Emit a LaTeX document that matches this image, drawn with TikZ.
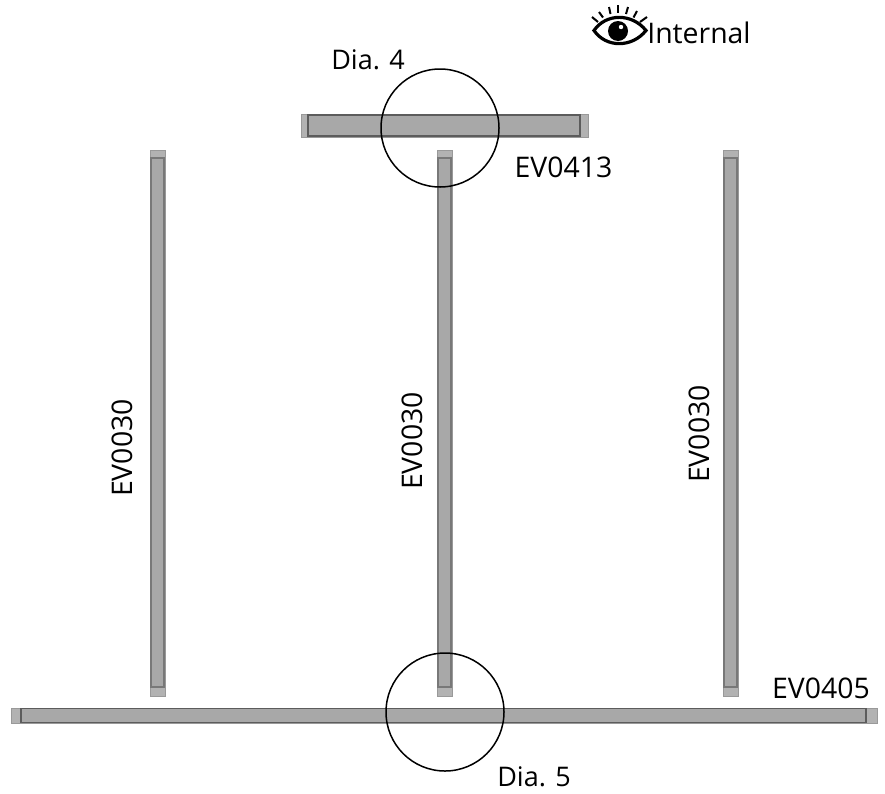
\documentclass[tikz,border=0pt]{standalone}
\usepackage{fontspec}
\setmainfont{Open Sans}
\definecolor{barfill}{gray}{0.66}
\definecolor{capfill}{gray}{0.70}
\definecolor{baredge}{gray}{0.36}
\definecolor{vedge}{gray}{0.47}
\definecolor{capedge}{gray}{0.60}
\tikzset{
  barbody/.style={draw=baredge,line width=1.6pt,fill=barfill},
  vbody/.style={draw=vedge,line width=1.5pt,fill=barfill},
  barcap/.style={draw=capedge,line width=0.8pt,fill=capfill},
  detail/.style={draw=black,line width=1.5pt},
  lbl/.style={inner sep=0pt,font=\fontsize{28.4}{32}\selectfont,text=black},
  dialbl/.style={inner sep=0pt,font=\fontsize{27}{30}\selectfont,text=black},
  lash/.style={draw=black,line width=2pt,line cap=butt}
}
\newcommand{\vbar}[1]{%
  \path[barcap] (#1-7.5,150) rectangle (#1+7.5,696);
  \path[vbody] (#1-6.5,158) rectangle (#1+6.5,687);
}
\begin{document}
\begin{tikzpicture}[x=1pt,y=-1pt]
\useasboundingbox (0,0) rectangle (885,793);
% horizontal members
\path[barcap] (301,114) rectangle (588,137);
\path[barbody] (308,115) rectangle (580,136);
\path[barcap] (11,708) rectangle (877,723);
\path[barbody] (21,708.5) rectangle (866,722.5);
% vertical members
\vbar{157.5}
\vbar{444.5}
\vbar{730.5}
% detail circles
\node[detail,circle,minimum size=118pt,inner sep=0pt] (dia4c) at (440,128) {};
\node[detail,circle,minimum size=118pt,inner sep=0pt] (dia5c) at (445,712) {};
% labels
\node[dialbl] (dia4) at (368,60) {Dia. 4};
\node[dialbl] (dia5) at (534,777) {Dia. 5};
\node[lbl] (ev413) at (563.5,167) {EV0413};
\node[lbl] (ev405) at (821,688) {EV0405};
\node[lbl,rotate=90] (ev1) at (122,448) {EV0030};
\node[lbl,rotate=90] (ev2) at (412,441) {EV0030};
\node[lbl,rotate=90] (ev3) at (699,434) {EV0030};
\node[lbl] (internal) at (699,33) {Internal};
% eye icon
\draw[draw=black,line width=3.2pt] (594,30.5) .. controls (606,13) and (632,13) .. (646,30.5) .. controls (632,48) and (606,48) .. (594,30.5) -- cycle;
\fill[black] (618,31) circle (10);
\fill[white] (621,27) circle (2.2);
\draw[lash] (592,17) -- (598,22);
\draw[lash] (599,12) -- (603,17.5);
\draw[lash] (609,7) -- (610.5,14);
\draw[lash] (618,5) -- (618,13);
\draw[lash] (628,7) -- (626,14);
\draw[lash] (637,11) -- (633.5,17.5);
\draw[lash] (647,17) -- (640,22);
\end{tikzpicture}
\end{document}
